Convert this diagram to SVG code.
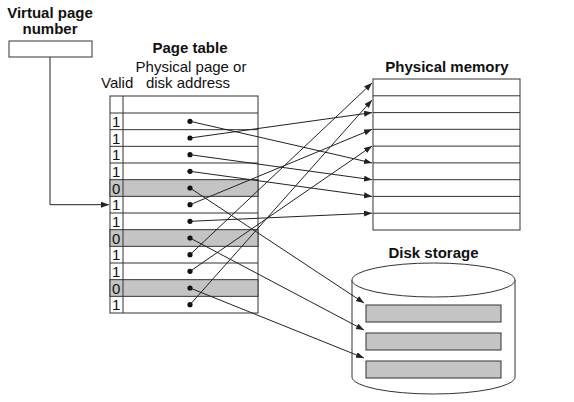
<svg xmlns="http://www.w3.org/2000/svg" width="574" height="402" viewBox="0 0 574 402">
<defs>
<marker id="ah" markerUnits="userSpaceOnUse" markerWidth="9" markerHeight="7" refX="8" refY="3" orient="auto">
<path d="M0,0 L8,3 L0,6 z" fill="#222"/>
</marker>
<style>
.t{font-family:"Liberation Sans",Arial,sans-serif;font-size:15px;fill:#111}
.b{font-family:"Liberation Sans",Arial,sans-serif;font-size:15px;font-weight:bold;fill:#111}
.box{fill:#fff;stroke:#333;stroke-width:1}
.sh{fill:#c4c4c4;stroke:#333;stroke-width:1}
.ln{stroke:#333;stroke-width:1;fill:none}
.c{stroke:#222;stroke-width:1;fill:none;marker-end:url(#ah)}
.d{fill:#111}
</style>
</defs>
<rect width="574" height="402" fill="#fff"/>

<g id="vpn">
<text class="b" x="50" y="18" text-anchor="middle">Virtual page</text>
<text class="b" x="50" y="34" text-anchor="middle">number</text>
<rect class="box" x="9" y="41" width="83" height="16"/>
</g>

<g id="pagetable">
<text class="b" x="190" y="53" text-anchor="middle">Page table</text>
<text class="t" x="191" y="72" text-anchor="middle">Physical page or</text>
<text class="t" x="188" y="88" text-anchor="middle">disk address</text>
<text class="t" x="101" y="88">Valid</text>
<rect class="box" x="110" y="96" width="148" height="217"/>
<rect class="sh" x="110" y="179.67" width="148" height="16.67"/>
<rect class="sh" x="110" y="229.67" width="148" height="16.67"/>
<rect class="sh" x="110" y="279.67" width="148" height="16.67"/>
<g class="ln">
<line x1="110" y1="113" x2="258" y2="113"/>
<line x1="110" y1="129.67" x2="258" y2="129.67"/>
<line x1="110" y1="146.33" x2="258" y2="146.33"/>
<line x1="110" y1="163" x2="258" y2="163"/>
<line x1="110" y1="213" x2="258" y2="213"/>
<line x1="110" y1="263" x2="258" y2="263"/>
<line x1="123" y1="96" x2="123" y2="313"/>
</g>
<g class="t">
<text x="112" y="127">1</text>
<text x="112" y="143.7">1</text>
<text x="112" y="160.4">1</text>
<text x="112" y="177">1</text>
<text x="112" y="193.7">0</text>
<text x="112" y="210.4">1</text>
<text x="112" y="227">1</text>
<text x="112" y="243.7">0</text>
<text x="112" y="260.4">1</text>
<text x="112" y="277">1</text>
<text x="112" y="293.7">0</text>
<text x="112" y="310.4">1</text>
</g>
<g class="d">
<circle cx="190" cy="121.3" r="2.6"/>
<circle cx="190" cy="138" r="2.6"/>
<circle cx="190" cy="154.7" r="2.6"/>
<circle cx="190" cy="171.3" r="2.6"/>
<circle cx="190" cy="188" r="2.6"/>
<circle cx="190" cy="204.7" r="2.6"/>
<circle cx="190" cy="221.3" r="2.6"/>
<circle cx="190" cy="238" r="2.6"/>
<circle cx="190" cy="254.7" r="2.6"/>
<circle cx="190" cy="271.3" r="2.6"/>
<circle cx="190" cy="288" r="2.6"/>
<circle cx="190" cy="304.7" r="2.6"/>
</g>
</g>

<g id="physmem">
<text class="b" x="447" y="72" text-anchor="middle">Physical memory</text>
<rect class="box" x="373" y="79" width="147" height="151"/>
<g class="ln">
<line x1="373" y1="95.8" x2="520" y2="95.8"/>
<line x1="373" y1="112.6" x2="520" y2="112.6"/>
<line x1="373" y1="129.3" x2="520" y2="129.3"/>
<line x1="373" y1="146.1" x2="520" y2="146.1"/>
<line x1="373" y1="162.9" x2="520" y2="162.9"/>
<line x1="373" y1="179.7" x2="520" y2="179.7"/>
<line x1="373" y1="196.4" x2="520" y2="196.4"/>
<line x1="373" y1="213.2" x2="520" y2="213.2"/>
</g>
</g>

<g id="disk">
<text class="b" x="433.5" y="258" text-anchor="middle">Disk storage</text>
<path class="box" d="M352,280 L352,377 A81.5,17 0 0 0 515,377 L515,280"/>
<ellipse class="box" cx="433.5" cy="280" rx="81.5" ry="17"/>
<rect class="sh" x="366" y="305" width="135" height="17"/>
<rect class="sh" x="366" y="333" width="135" height="17"/>
<rect class="sh" x="366" y="361" width="135" height="17"/>
</g>

<g id="connectors">
<polyline class="c" points="50,57 50,204.7 109,204.7"/>
<line class="c" x1="190" y1="121.3" x2="372" y2="162.9"/>
<line class="c" x1="190" y1="138" x2="372" y2="112.6"/>
<line class="c" x1="190" y1="154.7" x2="372" y2="179.7"/>
<line class="c" x1="190" y1="171.3" x2="372" y2="196.4"/>
<line class="c" x1="190" y1="188" x2="364" y2="303"/>
<line class="c" x1="190" y1="204.7" x2="372" y2="129.3"/>
<line class="c" x1="190" y1="221.3" x2="372" y2="213.2"/>
<line class="c" x1="190" y1="238" x2="364" y2="330"/>
<line class="c" x1="190" y1="254.7" x2="372" y2="83"/>
<line class="c" x1="190" y1="271.3" x2="372" y2="146.1"/>
<line class="c" x1="190" y1="288" x2="364" y2="358"/>
<line class="c" x1="190" y1="304.7" x2="372" y2="100"/>
</g>
</svg>
